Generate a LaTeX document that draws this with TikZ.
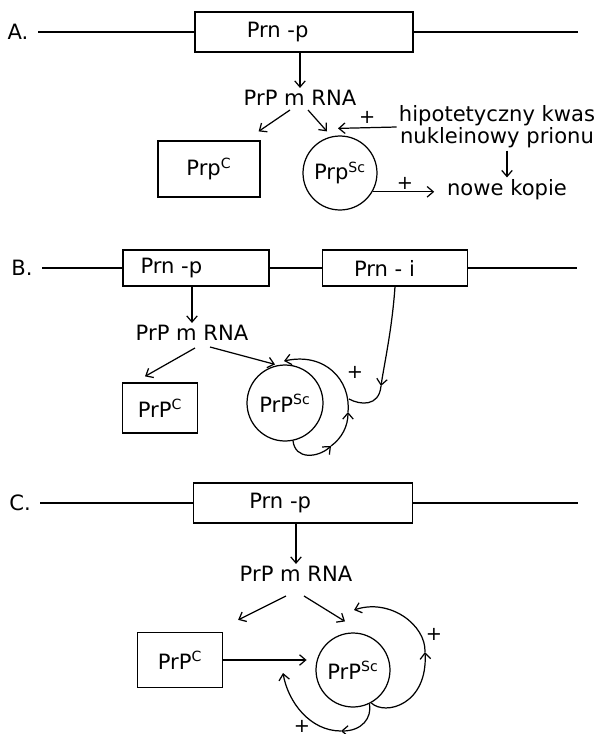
\documentclass[tikz,border=0pt]{standalone}
\usepackage{fontspec}
\setmainfont{DejaVu Sans}
\usetikzlibrary{arrows.meta}

\begin{document}
\begin{tikzpicture}[
    x=0.02cm, y=-0.02cm,
    >={Straight Barb[length=3.5pt,width=6pt]},
    line width=0.7pt,
    every node/.style={font=\fontsize{12}{14}\selectfont},
    gene/.style={draw, minimum height=0.8cm, inner sep=1pt},
    prot/.style={draw, inner sep=1pt},
    prion/.style={draw, circle, minimum size=1.48cm, inner sep=0pt},
    txt/.style={inner sep=1pt},
    sign/.style={inner sep=0pt, font=\fontsize{11}{13}\selectfont}
]
    \useasboundingbox (0,0) rectangle (600,734);

    % A
    \node[txt] (labA) at (18,32) {A.};
    \node[gene, minimum width=4.36cm] (genA) at (304,32) {Prn -p\hspace*{30pt}};
    \coordinate (lA) at (38,32);
    \coordinate (rA) at (578,32);
    \draw (lA) -- (genA.west);
    \draw (genA.east) -- (rA);

    \node[txt] (mrnaA) at (300,98) {PrP m RNA};
    \draw[->] (genA.south -| mrnaA.north) -- (mrnaA.north);

    \node[prot, minimum width=2.04cm, minimum height=1.12cm] (prpcA) at (209,169) {Prp\textsuperscript{C}};
    \node[prion] (scA) at (340,173) {Prp\textsuperscript{Sc}};
    \draw[->] ([shift={(-10,12)}]mrnaA.center) -- ([shift={(-2,-9)}]prpcA.north east);
    \draw[->] ([shift={(8,12)}]mrnaA.center) -- ([shift={(-13,-4)}]scA.north);

    \node[txt, align=center, font=\fontsize{12}{11}\selectfont] (hypA) at (497,127) {hipotetyczny kwas\\nukleinowy prionu};
    \draw[->] (hypA.west) -- ([shift={(-2,-7)}]scA.north)
        node[sign, pos=.5, above=2pt] (plA1) {+};

    \node[txt] (novA) at (507,190) {nowe kopie};
    \draw[->] (hypA.south -| novA.north) -- (novA.north);
    \draw[->, shorten >=6pt] (scA.-30) -- (scA.-30 -| novA.west)
        node[sign, pos=.45, above=1pt] (plA2) {+};

    % B
    \node[txt] (labB) at (22,268) {B.};
    \node[gene, minimum width=2.92cm, minimum height=0.72cm] (genB1) at (196,268) {Prn -p\hspace*{28pt}};
    \node[gene, minimum width=2.9cm, minimum height=0.72cm] (genB2) at (395,268) {Prn - i\hspace*{12pt}};
    \coordinate (lB) at (42,268);
    \coordinate (rB) at (577,268);
    \draw (lB) -- (genB1.west);
    \draw (genB1.east) -- (genB2.west);
    \draw (genB2.east) -- (rB);

    \node[txt] (mrnaB) at (192,333) {PrP m RNA};
    \draw[->] (genB1.south -| mrnaB.north) -- (mrnaB.north);

    \node[prot, minimum width=1.5cm, minimum height=1cm] (prpcB) at (160,408) {PrP\textsuperscript{C}};
    \node[prion, minimum size=1.52cm] (scB) at (285,403) {PrP\textsuperscript{Sc}};
    \draw[->] ([shift={(3,15)}]mrnaB.center) -- ([shift={(-15,-6)}]prpcB.north);
    \draw[->] ([shift={(18,14)}]mrnaB.center) -- ([shift={(-10,0)}]scB.north);

    \coordinate (bB1) at (331,446);
    \coordinate (bB2) at (348,412);
    \coordinate (bB3) at (284,361);
    \draw[->] (scB.-78) .. controls (295,460) and (318,458) .. (bB1);
    \draw[->] (bB1) .. controls (342,438) and (348,426) .. (bB2);
    \draw[->] (bB2) .. controls (351,380) and (325,352) .. (bB3);

    \coordinate (iB1) at (381,386);
    \coordinate (jB) at (349,399);
    \draw[->] (genB2.south) .. controls (392,330) and (384,365) .. (iB1);
    \draw (iB1) .. controls (379,407) and (360,405) .. (jB);
    \node[sign] (plB) at (355,372) {+};

    % C
    \node[txt] (labC) at (20,503) {C.};
    \node[gene, minimum width=4.38cm] (genC) at (303,503) {Prn -p\hspace*{26pt}};
    \coordinate (lC) at (40,503);
    \coordinate (rC) at (578,503);
    \draw (lC) -- (genC.west);
    \draw (genC.east) -- (rC);

    \node[txt] (mrnaC) at (296,574) {PrP m RNA};
    \draw[->] (genC.south -| mrnaC.north) -- (mrnaC.north);

    \node[prot, minimum width=1.7cm, minimum height=1.1cm] (prpcC) at (180,660) {PrP\textsuperscript{C}};
    \node[prion] (scC) at (353,670) {PrP\textsuperscript{Sc}};
    \draw[->] ([shift={(-10,22)}]mrnaC.center) -- ([shift={(15,-12)}]prpcC.north east);
    \draw[->] ([shift={(8,22)}]mrnaC.center) -- ([shift={(-8,-11)}]scC.north);
    \draw[->, shorten >=5pt] (prpcC.east) -- (prpcC.east -| scC.west);

    \coordinate (cR1) at (425,652);
    \coordinate (cR2) at (354,610);
    \draw[->] (scC.-61) .. controls (385,716) and (428,705) .. (cR1);
    \draw[->] (cR1) .. controls (426,625) and (390,598) .. (cR2);
    \node[sign] (plC1) at (434,634) {+};

    \coordinate (cL1) at (341,731);
    \coordinate (cL2) at (283,673);
    \draw[->] (scC.-64) .. controls (372,718) and (362,731) .. (cL1);
    \draw[->] (cL1) .. controls (310,731) and (288,702) .. (cL2);
    \node[sign] (plC2) at (302,726) {+};
\end{tikzpicture}
\end{document}
